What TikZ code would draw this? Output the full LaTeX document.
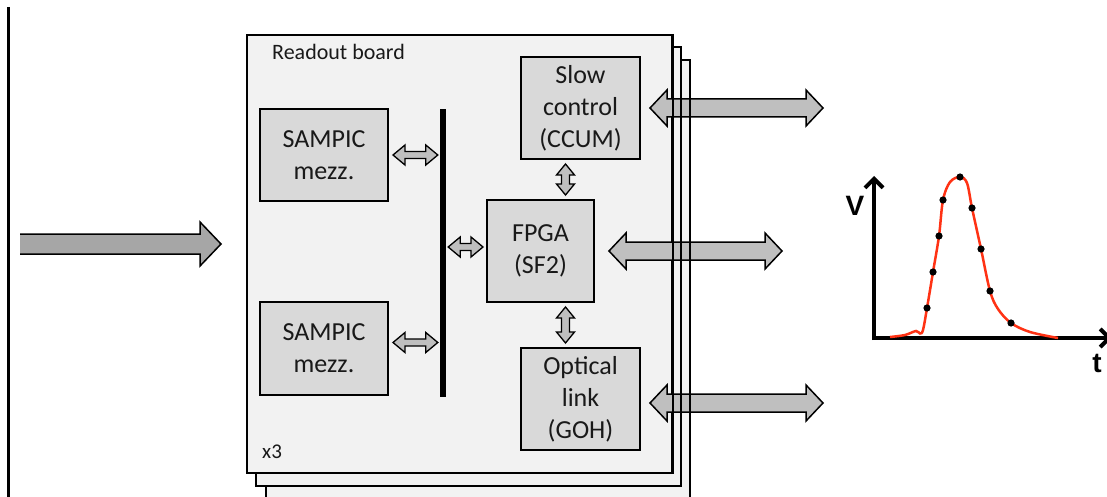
\documentclass[tikz,border=0pt]{standalone}
\usepackage{fontspec}
\setmainfont{Carlito}
\newfontfamily\axisfont{Liberation Sans}
\usetikzlibrary{calc,arrows.meta}
\definecolor{boardfill}{HTML}{F2F2F2}
\definecolor{boxfill}{HTML}{D9D9D9}
\definecolor{arrfill}{HTML}{BFBFBF}
\definecolor{inarr}{HTML}{A6A6A6}
\definecolor{sig}{HTML}{FF3214}
\newcommand\hdbl[6]{\draw[#1] let \p1=#2, \p2=#3 in (\x1,\y1) -- (\x1+#6pt,\y1+#5pt) -- (\x1+#6pt,\y1+#4pt) -- (\x2-#6pt,\y1+#4pt) -- (\x2-#6pt,\y1+#5pt) -- (\x2,\y1) -- (\x2-#6pt,\y1-#5pt) -- (\x2-#6pt,\y1-#4pt) -- (\x1+#6pt,\y1-#4pt) -- (\x1+#6pt,\y1-#5pt) -- cycle;}
\newcommand\vdbl[6]{\draw[#1] let \p1=#2, \p2=#3 in (\x1,\y1) -- (\x1+#5pt,\y1-#6pt) -- (\x1+#4pt,\y1-#6pt) -- (\x1+#4pt,\y2+#6pt) -- (\x1+#5pt,\y2+#6pt) -- (\x1,\y2) -- (\x1-#5pt,\y2+#6pt) -- (\x1-#4pt,\y2+#6pt) -- (\x1-#4pt,\y1-#6pt) -- (\x1-#5pt,\y1-#6pt) -- cycle;}
\begin{document}
\begin{tikzpicture}[x=1pt,y=-1pt,
  board/.style={draw=black, line width=2pt, fill=boardfill},
  blk/.style={draw=black, line width=2pt, fill=boxfill, align=center, inner sep=0pt, text=black!90, font=\fontsize{26}{32}\selectfont},
  bigarr/.style={draw=black, line width=1.5pt, fill=arrfill, line join=miter},
  smallarr/.style={draw=black, line width=1.3pt, fill=arrfill, line join=miter},
  axis/.style={line width=4pt, -{Straight Barb[length=9pt,width=18pt]}},
  axlabel/.style={inner sep=0pt, font=\axisfont\bfseries\fontsize{28}{30}\selectfont}]
\useasboundingbox (0,0) rectangle (1107,497);

% left line
\draw[line width=3pt] (8,7) -- (8,497);

% input arrow
\coordinate (inS) at (20,244);
\coordinate (inT) at (221,244);
\fill[inarr] let \p1=(inS), \p2=(inT) in (\x1,\y1+10pt) -- (\x2-21pt,\y1+10pt) -- (\x2-21pt,\y1+22pt) -- (\x2,\y1) -- (\x2-21pt,\y1-22pt) -- (\x2-21pt,\y1-10pt) -- (\x1,\y1-10pt) -- cycle;
\draw[line width=1.5pt, line join=miter] let \p1=(inS), \p2=(inT) in (\x1,\y1+10pt) -- (\x2-21pt,\y1+10pt) -- (\x2-21pt,\y1+22pt) -- (\x2,\y1) -- (\x2-21pt,\y1-22pt) -- (\x2-21pt,\y1-10pt) -- (\x1,\y1-10pt);

% boards
\draw[board] (266,60) rectangle (690,512);
\draw[board] (256,47) rectangle (681,486);
\node[board, minimum width=425, minimum height=438, inner sep=0pt] (front) at (459.5,254) {};
\node[anchor=west, inner sep=0pt, text=black!90, font=\fontsize{22}{24}\selectfont] (lbl) at (272,52) {Readout board};
\node[anchor=west, inner sep=0pt, text=black!90, font=\fontsize{21}{22}\selectfont] (x3) at (262,452) {x3};

% blocks
\node[blk, minimum width=128, minimum height=92] (s1) at (324,155) {SAMPIC\\mezz.};
\node[blk, minimum width=128, minimum height=93] (s2) at (324,348.5) {SAMPIC\\mezz.};
\node[blk, minimum width=107, minimum height=102] (fpga) at (540.5,251) {FPGA\\(SF2)};
\node[blk, minimum width=119, minimum height=102] (slow) at (580.5,108) {Slow\\control\\(CCUM)};
\node[blk, minimum width=119, minimum height=102] (opt) at (580.5,399) {Optical\\link\\(GOH)};
\node[fill=black, minimum width=6, minimum height=288, inner sep=0pt] (bus) at (443,253) {};

% small arrows
\hdbl{smallarr}{($(s1.east)+(4,0)$)}{($(bus.west)+(-2,0)$)}{3.5}{10}{12}
\hdbl{smallarr}{($(s2.east)+(4,-6)$)}{($(bus.west)+(-2,-6)$)}{3.5}{10}{12}
\hdbl{smallarr}{($(bus.east)+(2,-6)$)}{($(fpga.west)+(-3,-6)$)}{3.5}{10}{12}
\vdbl{smallarr}{($(slow.south)+(-15,4)$)}{($(slow.south |- fpga.north)+(-15,-4)$)}{4}{9}{11}
\vdbl{smallarr}{($(fpga.south -| opt.north)+(-15,4)$)}{($(opt.north)+(-15,-4)$)}{4}{9}{11}

% big arrows
\coordinate (o1) at (823,108);
\coordinate (o2) at (782,251);
\coordinate (o3) at (823,403);
\hdbl{bigarr}{($(slow.east)+(9,0)$)}{(o1)}{9}{18}{17}
\hdbl{bigarr}{($(fpga.east)+(14,0)$)}{(o2)}{9}{18}{17}
\hdbl{bigarr}{($(opt.east)+(9,4)$)}{(o3)}{9}{18}{17}

% board edges seen over the arrows
\draw[line width=2pt] (front.north east) -- (front.south east);
\draw[line width=2pt] (681,47) -- (681,486);
\draw[line width=2pt] (690,60) -- (690,512);

% signal graph
\draw[axis] (874,340) -- (874,176);
\draw[axis] (872,338) -- (1112,338);
\draw[sig, line width=2.5pt] plot[smooth, tension=0.55] coordinates {(890,337) (905,335) (916,331) (920,333.5) (923,330) (927,308) (933,272) (939,236) (943,200) (950,182) (960,177) (967,183) (972,208) (981,249) (990,291) (998,309) (1011,323) (1030,332) (1058,338)};
\foreach \q in {(927,308),(933,272),(939,236),(943,200),(960,177),(972,208),(981,249),(990,291),(1011,323)}
  \fill \q circle (3.6);
\node[axlabel] (vl) at (855,206) {V};
\node[axlabel] (tl) at (1097,363) {t};
\end{tikzpicture}
\end{document}
